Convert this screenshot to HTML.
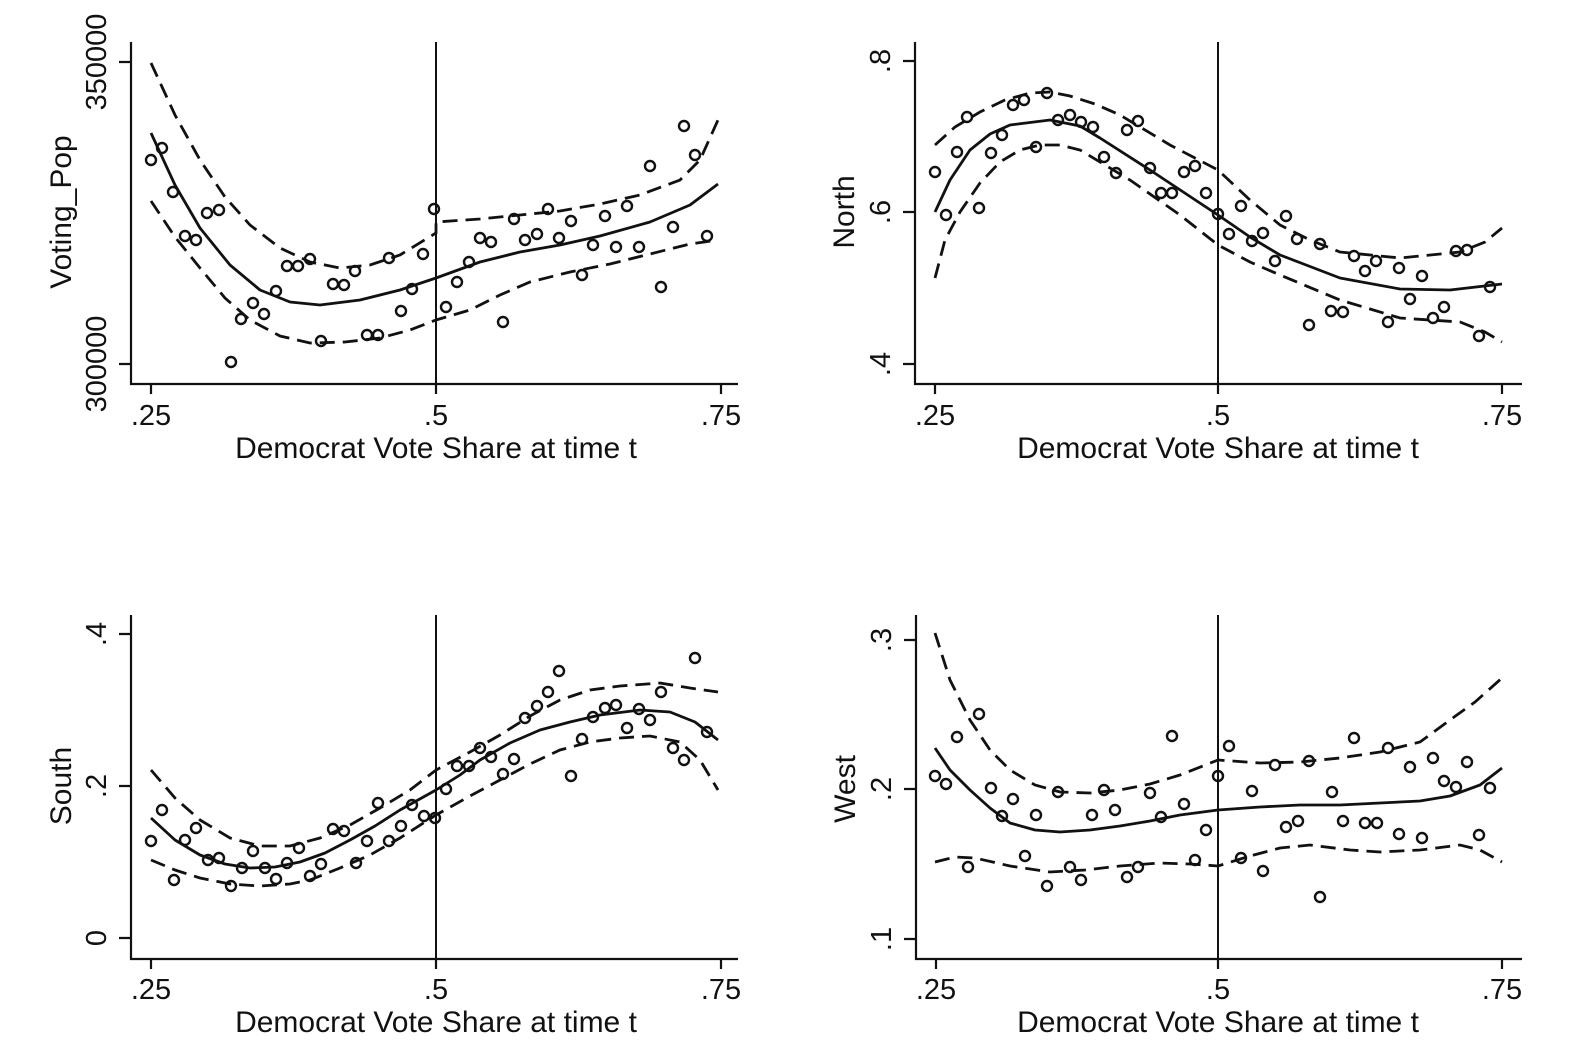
<!DOCTYPE html>
<html><head><meta charset="utf-8"><style>
html,body{margin:0;padding:0;background:#fff}
svg{display:block}
text{font-family:"Liberation Sans",Arial,sans-serif;fill:#111}
.ax{stroke:#111;stroke-width:2.2;fill:none}
.s{stroke:#111;stroke-width:2.8;fill:none;stroke-linejoin:round}
.d{stroke:#111;stroke-width:2.8;fill:none;stroke-dasharray:15 8}
.p circle{fill:none;stroke:#111;stroke-width:2.4}
.t{font-size:29px}
.l{font-size:30px}
</style></head><body>
<svg width="1569" height="1053" viewBox="0 0 1569 1053" xmlns="http://www.w3.org/2000/svg">
<!-- Panel 1 -->
<g>
<path class="ax" d="M131 42V384H738M131 62H119M131 364H119M151 384V394M436 384V394M721 384V394"/>
<line x1="436" y1="42" x2="436" y2="384" stroke="#111" stroke-width="2"/>
<text class="t" x="151" y="425" text-anchor="middle">.25</text>
<text class="t" x="436" y="425" text-anchor="middle">.5</text>
<text class="t" x="721" y="425" text-anchor="middle">.75</text>
<text class="l" x="436" y="458" text-anchor="middle">Democrat Vote Share at time t</text>
<text class="t" transform="translate(106,62) rotate(-90)" text-anchor="middle">350000</text>
<text class="t" transform="translate(106,364) rotate(-90)" text-anchor="middle">300000</text>
<text class="l" transform="translate(71,212) rotate(-90)" text-anchor="middle">Voting_Pop</text>
<polyline class="s" points="151,133 175,185 200,228 230,265 260,290 290,302 320,305 360,300 400,290 436,278 480,262 520,252 560,245 600,236 650,222 690,205 718,184"/>
<polyline class="d" points="151,63 175,115 200,160 225,197 250,225 280,248 310,262 340,268 370,265 400,255 436,233 436,222 480,219 520,215 560,211 600,204 640,195 680,180 700,160 718,120"/>
<polyline class="d" points="151,201 175,237 200,268 225,298 250,320 280,336 310,343 345,342 380,338 410,330 436,320 470,310 500,295 530,282 570,272 610,264 650,254 690,244 718,240"/>
<g class="p">
<circle cx="151" cy="160" r="5"/><circle cx="162" cy="148" r="5"/><circle cx="173" cy="192" r="5"/><circle cx="185" cy="236" r="5"/><circle cx="196" cy="240" r="5"/><circle cx="207" cy="213" r="5"/><circle cx="219" cy="210" r="5"/><circle cx="231" cy="362" r="5"/><circle cx="241" cy="319" r="5"/><circle cx="253" cy="303" r="5"/><circle cx="264" cy="314" r="5"/><circle cx="276" cy="291" r="5"/><circle cx="287" cy="266" r="5"/><circle cx="298" cy="266" r="5"/><circle cx="310" cy="259" r="5"/><circle cx="321" cy="341" r="5"/><circle cx="333" cy="284" r="5"/><circle cx="344" cy="285" r="5"/><circle cx="355" cy="271" r="5"/><circle cx="367" cy="335" r="5"/><circle cx="378" cy="335" r="5"/><circle cx="389" cy="258" r="5"/><circle cx="401" cy="311" r="5"/><circle cx="412" cy="289" r="5"/><circle cx="423" cy="254" r="5"/><circle cx="434" cy="209" r="5"/><circle cx="446" cy="307" r="5"/><circle cx="457" cy="282" r="5"/><circle cx="469" cy="262" r="5"/><circle cx="480" cy="238" r="5"/><circle cx="491" cy="242" r="5"/><circle cx="503" cy="322" r="5"/><circle cx="514" cy="219" r="5"/><circle cx="525" cy="240" r="5"/><circle cx="537" cy="234" r="5"/><circle cx="548" cy="209" r="5"/><circle cx="559" cy="238" r="5"/><circle cx="571" cy="221" r="5"/><circle cx="582" cy="275" r="5"/><circle cx="593" cy="245" r="5"/><circle cx="605" cy="216" r="5"/><circle cx="616" cy="247" r="5"/><circle cx="627" cy="206" r="5"/><circle cx="639" cy="247" r="5"/><circle cx="650" cy="166" r="5"/><circle cx="661" cy="287" r="5"/><circle cx="673" cy="227" r="5"/><circle cx="684" cy="126" r="5"/><circle cx="695" cy="155" r="5"/><circle cx="707" cy="236" r="5"/>
</g></g>
<!-- Panel 2 -->
<g>
<path class="ax" d="M915 42V384H1522M915 61H903M915 212H903M915 364H903M935 384V394M1218 384V394M1502 384V394"/>
<line x1="1218" y1="42" x2="1218" y2="384" stroke="#111" stroke-width="2"/>
<text class="t" x="935" y="425" text-anchor="middle">.25</text>
<text class="t" x="1218" y="425" text-anchor="middle">.5</text>
<text class="t" x="1502" y="425" text-anchor="middle">.75</text>
<text class="l" x="1218" y="458" text-anchor="middle">Democrat Vote Share at time t</text>
<text class="t" transform="translate(890,61) rotate(-90)" text-anchor="middle">.8</text>
<text class="t" transform="translate(890,212) rotate(-90)" text-anchor="middle">.6</text>
<text class="t" transform="translate(890,364) rotate(-90)" text-anchor="middle">.4</text>
<text class="l" transform="translate(854,212) rotate(-90)" text-anchor="middle">North</text>
<polyline class="s" points="935,212 950,180 970,150 990,134 1010,125 1050,120 1080,126 1100,138 1150,170 1218,215 1250,237 1280,255 1340,278 1400,289 1450,290 1502,284"/>
<polyline class="d" points="935,145 955,127 980,112 1005,100 1030,93 1050,92 1070,96 1095,104 1120,115 1170,145 1218,170 1250,200 1280,225 1310,240 1340,252 1400,258 1460,252 1485,242 1502,228"/>
<polyline class="d" points="935,278 945,240 960,212 980,183 1000,162 1020,150 1040,145 1060,145 1080,150 1130,180 1180,215 1218,245 1250,262 1280,275 1340,300 1400,318 1460,322 1485,332 1502,342"/>
<g class="p">
<circle cx="935" cy="172" r="5"/><circle cx="946" cy="215" r="5"/><circle cx="957" cy="152" r="5"/><circle cx="967" cy="117" r="5"/><circle cx="979" cy="208" r="5"/><circle cx="991" cy="153" r="5"/><circle cx="1002" cy="135" r="5"/><circle cx="1013" cy="105" r="5"/><circle cx="1024" cy="100" r="5"/><circle cx="1036" cy="147" r="5"/><circle cx="1047" cy="93" r="5"/><circle cx="1058" cy="120" r="5"/><circle cx="1070" cy="115" r="5"/><circle cx="1081" cy="122" r="5"/><circle cx="1093" cy="127" r="5"/><circle cx="1104" cy="157" r="5"/><circle cx="1116" cy="173" r="5"/><circle cx="1127" cy="130" r="5"/><circle cx="1138" cy="121" r="5"/><circle cx="1150" cy="168" r="5"/><circle cx="1161" cy="193" r="5"/><circle cx="1172" cy="193" r="5"/><circle cx="1184" cy="172" r="5"/><circle cx="1195" cy="166" r="5"/><circle cx="1206" cy="193" r="5"/><circle cx="1218" cy="214" r="5"/><circle cx="1229" cy="234" r="5"/><circle cx="1241" cy="206" r="5"/><circle cx="1252" cy="241" r="5"/><circle cx="1263" cy="233" r="5"/><circle cx="1275" cy="261" r="5"/><circle cx="1286" cy="216" r="5"/><circle cx="1297" cy="239" r="5"/><circle cx="1309" cy="325" r="5"/><circle cx="1320" cy="244" r="5"/><circle cx="1331" cy="311" r="5"/><circle cx="1343" cy="312" r="5"/><circle cx="1354" cy="256" r="5"/><circle cx="1365" cy="271" r="5"/><circle cx="1376" cy="261" r="5"/><circle cx="1388" cy="322" r="5"/><circle cx="1399" cy="268" r="5"/><circle cx="1410" cy="299" r="5"/><circle cx="1422" cy="276" r="5"/><circle cx="1433" cy="318" r="5"/><circle cx="1444" cy="307" r="5"/><circle cx="1456" cy="251" r="5"/><circle cx="1467" cy="250" r="5"/><circle cx="1479" cy="336" r="5"/><circle cx="1490" cy="287" r="5"/>
</g></g>
<!-- Panel 3 -->
<g>
<path class="ax" d="M131 615V959H738M131 634H119M131 786H119M131 938H119M151 959V969M436 959V969M721 959V969"/>
<line x1="436" y1="615" x2="436" y2="959" stroke="#111" stroke-width="2"/>
<text class="t" x="151" y="999" text-anchor="middle">.25</text>
<text class="t" x="436" y="999" text-anchor="middle">.5</text>
<text class="t" x="721" y="999" text-anchor="middle">.75</text>
<text class="l" x="436" y="1032" text-anchor="middle">Democrat Vote Share at time t</text>
<text class="t" transform="translate(106,634) rotate(-90)" text-anchor="middle">.4</text>
<text class="t" transform="translate(106,786) rotate(-90)" text-anchor="middle">.2</text>
<text class="t" transform="translate(106,938) rotate(-90)" text-anchor="middle">0</text>
<text class="l" transform="translate(71,786) rotate(-90)" text-anchor="middle">South</text>
<polyline class="s" points="151,818 175,840 200,855 225,864 250,868 275,867 300,862 325,853 350,840 375,826 400,810 436,790 460,775 480,760 510,743 540,730 570,722 600,715 640,710 670,712 695,722 718,740"/>
<polyline class="d" points="151,770 175,798 200,820 230,838 260,846 290,846 320,838 350,825 380,808 410,790 436,770 470,752 500,735 530,716 560,700 590,690 620,686 660,683 690,688 718,692"/>
<polyline class="d" points="151,860 175,870 200,878 230,884 260,886 290,884 310,880 340,868 370,855 400,838 436,815 470,796 500,780 530,764 560,750 590,742 620,738 650,736 680,742 700,760 718,790"/>
<g class="p">
<circle cx="151" cy="841" r="5"/><circle cx="162" cy="810" r="5"/><circle cx="174" cy="880" r="5"/><circle cx="185" cy="840" r="5"/><circle cx="196" cy="828" r="5"/><circle cx="208" cy="860" r="5"/><circle cx="219" cy="858" r="5"/><circle cx="231" cy="886" r="5"/><circle cx="242" cy="868" r="5"/><circle cx="253" cy="851" r="5"/><circle cx="265" cy="868" r="5"/><circle cx="276" cy="879" r="5"/><circle cx="287" cy="863" r="5"/><circle cx="299" cy="848" r="5"/><circle cx="310" cy="876" r="5"/><circle cx="321" cy="864" r="5"/><circle cx="333" cy="829" r="5"/><circle cx="344" cy="831" r="5"/><circle cx="356" cy="863" r="5"/><circle cx="367" cy="841" r="5"/><circle cx="378" cy="803" r="5"/><circle cx="389" cy="841" r="5"/><circle cx="401" cy="826" r="5"/><circle cx="412" cy="805" r="5"/><circle cx="424" cy="816" r="5"/><circle cx="435" cy="818" r="5"/><circle cx="446" cy="789" r="5"/><circle cx="457" cy="766" r="5"/><circle cx="469" cy="766" r="5"/><circle cx="480" cy="748" r="5"/><circle cx="491" cy="757" r="5"/><circle cx="503" cy="774" r="5"/><circle cx="514" cy="759" r="5"/><circle cx="525" cy="718" r="5"/><circle cx="537" cy="706" r="5"/><circle cx="548" cy="692" r="5"/><circle cx="559" cy="671" r="5"/><circle cx="571" cy="776" r="5"/><circle cx="582" cy="739" r="5"/><circle cx="593" cy="717" r="5"/><circle cx="605" cy="708" r="5"/><circle cx="616" cy="705" r="5"/><circle cx="627" cy="728" r="5"/><circle cx="639" cy="709" r="5"/><circle cx="650" cy="720" r="5"/><circle cx="661" cy="692" r="5"/><circle cx="673" cy="748" r="5"/><circle cx="684" cy="760" r="5"/><circle cx="695" cy="658" r="5"/><circle cx="707" cy="732" r="5"/>
</g></g>
<!-- Panel 4 -->
<g>
<path class="ax" d="M916 615V959H1522M916 640H904M916 789H904M916 939H904M936 959V969M1218 959V969M1502 959V969"/>
<line x1="1218" y1="615" x2="1218" y2="959" stroke="#111" stroke-width="2"/>
<text class="t" x="936" y="999" text-anchor="middle">.25</text>
<text class="t" x="1218" y="999" text-anchor="middle">.5</text>
<text class="t" x="1502" y="999" text-anchor="middle">.75</text>
<text class="l" x="1218" y="1032" text-anchor="middle">Democrat Vote Share at time t</text>
<text class="t" transform="translate(891,640) rotate(-90)" text-anchor="middle">.3</text>
<text class="t" transform="translate(891,789) rotate(-90)" text-anchor="middle">.2</text>
<text class="t" transform="translate(891,939) rotate(-90)" text-anchor="middle">.1</text>
<text class="l" transform="translate(855,789) rotate(-90)" text-anchor="middle">West</text>
<polyline class="s" points="935,748 950,770 970,790 990,808 1010,823 1035,830 1060,832 1090,830 1120,826 1150,821 1180,815 1218,810 1260,807 1300,805 1340,805 1380,803 1420,801 1450,796 1480,785 1502,768"/>
<polyline class="d" points="935,633 950,680 970,720 990,750 1010,770 1035,785 1060,792 1090,793 1120,790 1150,784 1180,775 1218,760 1260,763 1300,762 1340,758 1380,752 1420,742 1450,720 1475,702 1502,678"/>
<polyline class="d" points="935,862 955,857 975,858 1010,866 1050,872 1085,870 1120,866 1160,863 1190,864 1218,866 1250,856 1280,848 1310,845 1350,850 1380,852 1420,850 1460,845 1480,850 1502,862"/>
<g class="p">
<circle cx="935" cy="776" r="5"/><circle cx="946" cy="784" r="5"/><circle cx="957" cy="737" r="5"/><circle cx="968" cy="867" r="5"/><circle cx="979" cy="714" r="5"/><circle cx="991" cy="788" r="5"/><circle cx="1002" cy="816" r="5"/><circle cx="1013" cy="799" r="5"/><circle cx="1025" cy="856" r="5"/><circle cx="1036" cy="815" r="5"/><circle cx="1047" cy="886" r="5"/><circle cx="1058" cy="792" r="5"/><circle cx="1070" cy="867" r="5"/><circle cx="1081" cy="880" r="5"/><circle cx="1092" cy="815" r="5"/><circle cx="1104" cy="790" r="5"/><circle cx="1115" cy="810" r="5"/><circle cx="1127" cy="877" r="5"/><circle cx="1138" cy="867" r="5"/><circle cx="1150" cy="793" r="5"/><circle cx="1161" cy="817" r="5"/><circle cx="1172" cy="736" r="5"/><circle cx="1184" cy="804" r="5"/><circle cx="1195" cy="860" r="5"/><circle cx="1206" cy="830" r="5"/><circle cx="1218" cy="776" r="5"/><circle cx="1229" cy="746" r="5"/><circle cx="1241" cy="858" r="5"/><circle cx="1252" cy="791" r="5"/><circle cx="1263" cy="871" r="5"/><circle cx="1275" cy="765" r="5"/><circle cx="1286" cy="827" r="5"/><circle cx="1298" cy="821" r="5"/><circle cx="1309" cy="761" r="5"/><circle cx="1320" cy="897" r="5"/><circle cx="1332" cy="792" r="5"/><circle cx="1343" cy="821" r="5"/><circle cx="1354" cy="738" r="5"/><circle cx="1365" cy="823" r="5"/><circle cx="1377" cy="823" r="5"/><circle cx="1388" cy="748" r="5"/><circle cx="1399" cy="834" r="5"/><circle cx="1410" cy="767" r="5"/><circle cx="1422" cy="838" r="5"/><circle cx="1433" cy="758" r="5"/><circle cx="1444" cy="781" r="5"/><circle cx="1456" cy="787" r="5"/><circle cx="1467" cy="762" r="5"/><circle cx="1479" cy="835" r="5"/><circle cx="1490" cy="788" r="5"/>
</g></g>
</svg>
</body></html>
